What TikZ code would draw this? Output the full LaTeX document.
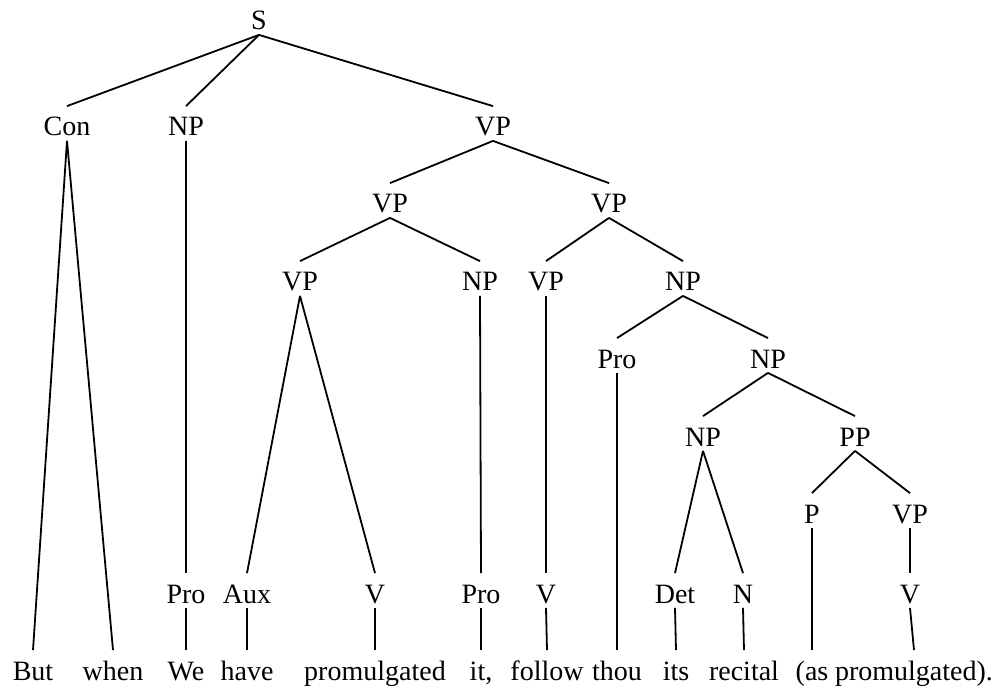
\documentclass[tikz,border=0pt]{standalone}
\usepackage{fontspec}
\setmainfont{Liberation Serif}
\usetikzlibrary{positioning}
\tikzset{
  every node/.style={font=\fontsize{28}{34}\selectfont, anchor=base,
    text height=25pt, text depth=0pt, inner xsep=2pt, inner ysep=4pt}, % every label
  branch/.style={line width=1.8pt}, % the tree lines
}

\begin{document}
\begin{tikzpicture}[x=1pt, y=-1pt, branch]
    \useasboundingbox (0,0) rectangle (997,687);

    \node (s) at (259,30) {S};
    \node (con) at (67,136) {Con};
    \node (np_a) at (186,136) {NP};
    \node (vp_a) at (493,136) {VP};
    \node (vp_b) at (390,213) {VP};
    \node (vp_c) at (609,213) {VP};
    \node (vp_d) at (300,291) {VP};
    \node (np_b) at (480,291) {NP};
    \node (vp_e) at (546,291) {VP};
    \node (np_c) at (683,291) {NP};
    \node (pro_a) at (617,368) {Pro};
    \node (np_d) at (768,368) {NP};
    \node (np_e) at (703,446) {NP};
    \node (pp) at (855,446) {PP};
    \node (p) at (812,523) {P};
    \node (vp_f) at (910,523) {VP};

    % preterminals
    \node (pro_b) at (186,603) {Pro};
    \node (aux) at (247,603) {Aux};
    \node (v_a) at (375,603) {V};
    \node (pro_c) at (481,603) {Pro};
    \node (v_b) at (546,603) {V};
    \node (det) at (675,603) {Det};
    \node (n) at (743,603) {N};
    \node (v_c) at (910,603) {V};

    % the words
    \node (w_but) at (33,680) {But};
    \node (w_when) at (113,680) {when};
    \node (w_we) at (186,680) {We};
    \node (w_have) at (247,680) {have};
    \node (w_prom) at (375,680) {promulgated};
    \node (w_it) at (481,680) {it,};
    \node (w_follow) at (547,680) {follow};
    \node (w_thou) at (617,680) {thou};
    \node (w_its) at (676,680) {its};
    \node (w_recital) at (744,680) {recital};
    \node (w_as) at (812,680) {(as};
    \node (w_prom_b) at (914,680) {promulgated).};

    \draw
    (s.south) edge (con.north) edge (np_a.north) edge (vp_a.north)
    (con.south) edge (w_but.north) edge (w_when.north)
    (np_a.south) edge (pro_b.north)
    (vp_a.south) edge (vp_b.north) edge (vp_c.north)
    (vp_b.south) edge (vp_d.north) edge (np_b.north)
    (vp_c.south) edge (vp_e.north) edge (np_c.north)
    (vp_d.south) edge (aux.north) edge (v_a.north)
    (np_b.south) edge (pro_c.north)
    (vp_e.south) edge (v_b.north)
    (np_c.south) edge (pro_a.north) edge (np_d.north)
    (pro_a.south) edge (w_thou.north)
    (np_d.south) edge (np_e.north) edge (pp.north)
    (np_e.south) edge (det.north) edge (n.north)
    (pp.south) edge (p.north) edge (vp_f.north)
    (p.south) edge (w_as.north)
    (vp_f.south) edge (v_c.north)

    (pro_b.south) edge (w_we.north)
    (aux.south) edge (w_have.north)
    (v_a.south) edge (w_prom.north)
    (pro_c.south) edge (w_it.north)
    (v_b.south) edge (w_follow.north)
    (det.south) edge (w_its.north)
    (n.south) edge (w_recital.north)
    (v_c.south) edge (w_prom_b.north)
    ;
  \end{tikzpicture}
\end{document}
